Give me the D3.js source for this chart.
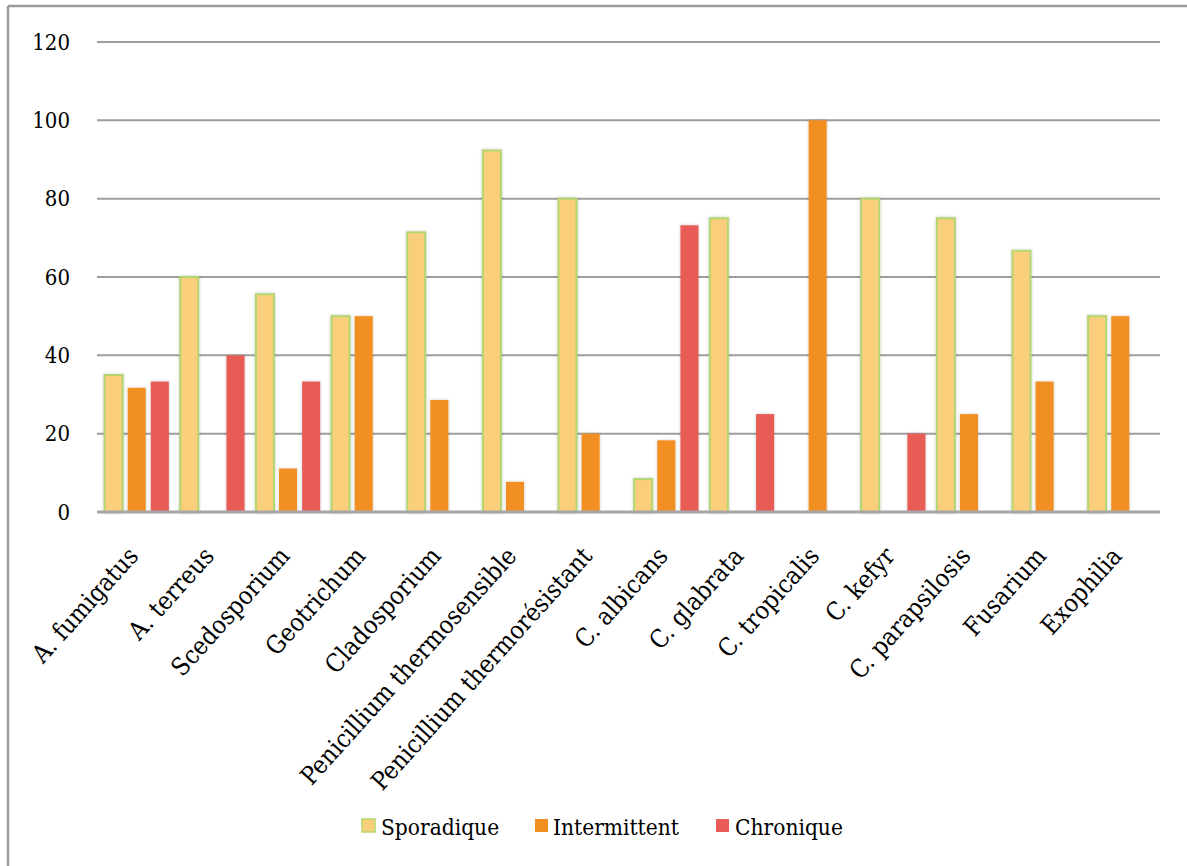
<!DOCTYPE html>
<html lang="fr">
<head>
    <meta charset="UTF-8">
    <title>Sporadique / Intermittent / Chronique</title>
    <style>
        body, html {
            margin: 0;
            padding: 0;
            background: #fff;
        }
        #chart svg {
            display: block;
        }
        text {
            font-family: "DejaVu Serif Condensed", "DejaVu Serif", serif;
            fill: #000;
        }
    </style>
    <script src="https://d3js.org/d3.v7.min.js"></script>
</head>
<body>
    <div id="chart"></div>
    <script>
        const categories = ["A. fumigatus", "A. terreus", "Scedosporium", "Geotrichum", "Cladosporium",
            "Penicillium thermosensible", "Penicillium thermorésistant", "C. albicans", "C. glabrata",
            "C. tropicalis", "C. kefyr", "C. parapsilosis", "Fusarium", "Exophilia"];
        const seriesNames = ["Sporadique", "Intermittent", "Chronique"];
        const sporadique   = [35, 60, 55.6, 50, 71.4, 92.3, 80, 8.4, 75, 0, 80, 75, 66.7, 50];
        const intermittent = [31.7, 0, 11.1, 50, 28.6, 7.7, 20, 18.3, 0, 100, 0, 25, 33.3, 50];
        const chronique    = [33.3, 40, 33.3, 0, 0, 0, 0, 73.2, 25, 0, 20, 0, 0, 0];
        const yTicks = [0, 20, 40, 60, 80, 100, 120];

        const colors = { "Sporadique": "#f9cf7c", "Intermittent": "#f28f22", "Chronique": "#e85b57" };

        const W = 1187, H = 866;
        const margin = { top: 42, right: 27, bottom: 354, left: 97 },
            width = W - margin.left - margin.right,
            height = H - margin.top - margin.bottom;

        const svg = d3.select("#chart").append("svg")
            .attr("width", W)
            .attr("height", H);

        const defs = svg.append("defs");
        const f = defs.append("filter").attr("id", "shadow")
            .attr("x", "-30%").attr("y", "-10%").attr("width", "160%").attr("height", "120%");
        f.append("feDropShadow").attr("dx", 0).attr("dy", 0).attr("stdDeviation", 1.6)
            .attr("flood-color", "#000").attr("flood-opacity", 0.22);

        // outer frame (only left and top edges are visible in the picture)
        svg.append("line").attr("x1", 8).attr("x2", 8).attr("y1", 6).attr("y2", H)
            .attr("stroke", "#9a9a9a").attr("stroke-width", 2.5);
        svg.append("line").attr("x1", 8).attr("x2", W).attr("y1", 6).attr("y2", 6)
            .attr("stroke", "#9a9a9a").attr("stroke-width", 2.5);

        const g = svg.append("g").attr("transform", `translate(${margin.left},${margin.top})`);

        const y = d3.scaleLinear().domain([0, 120]).range([height, 0]);
        const x0 = d3.scaleBand().domain(categories).range([0, width]).paddingInner(0.15).paddingOuter(0.1);
        const x1 = d3.scaleBand().domain(seriesNames).range([0, x0.bandwidth()]).paddingInner(0.22);

        // gridlines
        g.append("g")
            .selectAll("line")
            .data(yTicks.filter(d => d > 0))
            .join("line")
            .attr("x1", 0).attr("x2", width)
            .attr("y1", d => y(d)).attr("y2", d => y(d))
            .attr("stroke", "#9e9e9e").attr("stroke-width", 2);

        // y axis labels
        const yAxis = g.append("g").call(d3.axisLeft(y).tickValues(yTicks).tickSize(0).tickPadding(27));
        yAxis.select(".domain").remove();
        yAxis.selectAll("text")
            .style("font-family", "\"DejaVu Serif Condensed\", \"DejaVu Serif\", serif")
            .style("font-size", "22px")
            .attr("fill", "#000");

        const rows = categories.map((c, i) => ({
            cat: c,
            values: [
                { key: "Sporadique", value: sporadique[i] },
                { key: "Intermittent", value: intermittent[i] },
                { key: "Chronique", value: chronique[i] }
            ]
        }));

        const groups = g.append("g").selectAll("g")
            .data(rows)
            .join("g")
            .attr("transform", d => `translate(${x0(d.cat)},0)`);

        groups.selectAll("rect")
            .data(d => d.values.filter(v => v.value > 0))
            .join("rect")
            .attr("x", d => x1(d.key))
            .attr("y", d => y(d.value))
            .attr("width", x1.bandwidth())
            .attr("height", d => y(0) - y(d.value))
            .attr("fill", d => colors[d.key])
            .attr("stroke", d => d.key === "Sporadique" ? "#b3d672" : "none")
            .attr("stroke-width", 2)
            .attr("filter", "url(#shadow)");

        // baseline
        g.append("line")
            .attr("x1", 0).attr("x2", width)
            .attr("y1", y(0)).attr("y2", y(0))
            .attr("stroke", "#a6a6a6").attr("stroke-width", 3);

        // category labels, rotated
        g.append("g").selectAll("text")
            .data(categories)
            .join("text")
            .attr("transform", d => `translate(${x0(d) + x0.bandwidth() / 2 + 3},${height + 45}) rotate(-48)`)
            .attr("text-anchor", "end")
            .style("font-size", "25px")
            .text(d => d);

        // legend
        const legendItems = [
            { key: "Sporadique", x: 362, tx: 381 },
            { key: "Intermittent", x: 535, tx: 553 },
            { key: "Chronique", x: 716, tx: 735 }
        ];
        const legend = svg.append("g");
        legend.selectAll("rect")
            .data(legendItems)
            .join("rect")
            .attr("x", d => d.x).attr("y", 819)
            .attr("width", 13).attr("height", 13)
            .attr("fill", d => colors[d.key])
            .attr("stroke", d => d.key === "Sporadique" ? "#b5d86a" : "none")
            .attr("stroke-width", 1.5);
        legend.selectAll("text")
            .data(legendItems)
            .join("text")
            .attr("x", d => d.tx).attr("y", 835)
            .style("font-size", "22.5px")
            .text(d => d.key);
    </script>
</body>
</html>
